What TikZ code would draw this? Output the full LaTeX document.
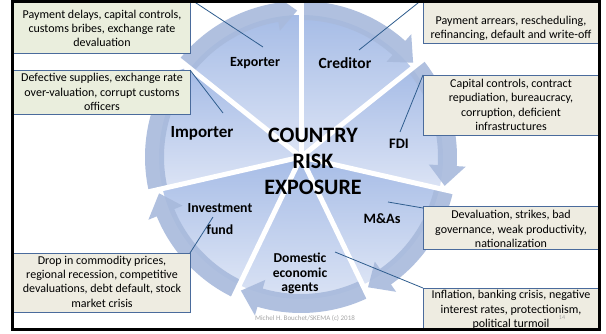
\documentclass[tikz,border=0pt]{standalone}
\usepackage{fontspec}
\setmainfont{Carlito}
\definecolor{boxfill}{HTML}{EEECE1}
\definecolor{boxfillg}{HTML}{EAEEDD}
\definecolor{boxblue}{HTML}{4A6B9C}
\definecolor{connblue}{HTML}{2F5D8E}
\definecolor{pietop}{HTML}{A6BCE6}
\definecolor{piebot}{HTML}{DCE4F5}
\definecolor{ringblue}{HTML}{A8BADC}
\definecolor{wmgray}{HTML}{A6A6A6}
\begin{document}
\begin{tikzpicture}[x=1pt,y=1pt,
  boxst/.style={draw=boxblue, line width=0.9pt, fill=boxfill, inner sep=0pt, outer sep=0pt, anchor=south west},
  boxtxt/.style={align=center, font=\fontsize{12}{14.3}\selectfont, inner sep=0pt},
  lbl/.style={align=center, inner sep=0pt},
  conn/.style={draw=connblue, line width=0.8pt},
  gapline/.style={draw=white, line width=5pt},
  ringst/.style={fill=ringblue, fill opacity=0.9}]
\useasboundingbox (0,0) rectangle (606,333);
\fill[white] (0,0) rectangle (606,333);
\begin{scope}
\clip (14,5) rectangle (598,330);
% cycle
\begin{scope}[shift={(301,176)}]
\foreach \k in {0,...,6}{
  \pgfmathsetmacro\aa{90-360/7*\k}
  \pgfmathsetmacro\bb{\aa-360/7}
  \shade[top color=pietop, bottom color=piebot] (0,0) -- (\aa:142pt) arc[start angle=\aa, end angle=\bb, radius=142pt] -- cycle;
}
\foreach \k in {0,...,6}{
  \pgfmathsetmacro\aa{90-360/7*\k}
  \pgfmathsetmacro\bb{\aa-360/7}
  \pgfmathsetmacro\tp{\bb+1.5}
  \pgfmathsetmacro\hb{\bb+9.5}
  \fill[ringst] (\aa:156pt) arc[start angle=\aa, end angle=\hb, radius=156pt] -- (\hb:165pt) -- (\tp:146.5pt) -- (\hb:128pt) -- (\hb:137pt) arc[start angle=\hb, end angle=\aa, radius=137pt] -- cycle;
}
\foreach \k in {0,...,6}{
  \pgfmathsetmacro\aa{90-360/7*\k}
  \draw[gapline] (0,0) -- (\aa:172pt);
}
\end{scope}
% boxes
\node[boxst, fill=boxfillg, minimum width=177pt, minimum height=54pt] (b1) at (13,280) {};
\node[boxst, fill=boxfillg, minimum width=177pt, minimum height=44pt] (b2) at (13,219) {};
\node[boxst, minimum width=176pt, minimum height=44pt] (b3) at (423,290) {};
\node[boxst, minimum width=176pt, minimum height=60pt] (b4) at (423,198) {};
\node[boxst, minimum width=176pt, minimum height=43pt] (b5) at (423,84) {};
\node[boxst, minimum width=177pt, minimum height=59pt] (b6) at (13,21) {};
\node[boxst, minimum width=176pt, minimum height=57pt] (b7) at (423,-12) {};
\node[boxtxt] (t1) at (102,304.5) {Payment delays, capital controls,\\customs bribes, exchange rate\\devaluation};
\node[boxtxt] (t2) at (102,241) {Defective supplies, exchange rate\\over-valuation, corrupt customs\\officers};
\node[boxtxt] (t3) at (511,304.5) {Payment arrears, rescheduling,\\refinancing, default and write-off};
\node[boxtxt] (t4) at (511,228) {Capital controls, contract\\repudiation, bureaucracy,\\corruption, deficient\\infrastructures};
\node[boxtxt] (t5) at (511,104) {Devaluation, strikes, bad\\governance, weak productivity,\\nationalization};
\node[boxtxt] (t6) at (102,51.5) {Drop in commodity prices,\\regional recession, competitive\\devaluations, debt default, stock\\market crisis};
\node[boxtxt] (t7) at (511,23) {Inflation, banking crisis, negative\\interest rates, protectionism,\\political turmoil};
% connector ends
\coordinate (e1) at (263,286);
\coordinate (e2) at (223,220);
\coordinate (e3) at (359,283);
\coordinate (e4) at (400,201);
\coordinate (e5) at (388,131);
\coordinate (e6) at (213,116);
\coordinate (e7) at (335,81);
\draw[conn] (b1.north east) -- (e1);
\draw[conn] (b2.north east) -- (e2);
\draw[conn] (b3.north west) -- (e3);
\draw[conn] (b4.north west) -- (e4);
\draw[conn] ([yshift=-2pt]b5.north west) -- (e5);
\draw[conn] (b6.north east) -- (e6);
\draw[conn] (b7.north west) -- (e7);
% labels
\node[lbl, font=\bfseries\fontsize{14}{17}\selectfont] (lexp) at (255,270) {Exporter};
\node[lbl, font=\bfseries\fontsize{15.5}{18}\selectfont] (lcred) at (345,270) {Creditor};
\node[lbl, font=\bfseries\fontsize{17}{20}\selectfont] (limp) at (202,200) {Importer};
\node[lbl, font=\bfseries\fontsize{14.5}{17}\selectfont] (lfdi) at (399,189) {FDI};
\node[lbl, font=\bfseries\fontsize{14.3}{17}\selectfont] (lma) at (382,114) {M\&As};
\node[lbl, font=\bfseries\fontsize{13.8}{22}\selectfont] (linv) at (220,114) {Investment\\fund};
\node[lbl, font=\bfseries\fontsize{13.6}{14.5}\selectfont] (ldom) at (300,59.5) {Domestic\\economic\\agents};
\node[lbl, font=\bfseries\fontsize{22}{26}\selectfont] (lcen) at (313,172) {COUNTRY\\RISK\\EXPOSURE};
\node[lbl, text=wmgray, font=\fontsize{7}{8}\selectfont] (wm) at (305,15) {Michel H. Bouchet/SKEMA (c) 2018};
\node[lbl, text=wmgray, font=\fontsize{6}{7}\selectfont] (pg) at (562,15) {14};
\end{scope}
\draw[black, line width=3pt] (12.5,3.5) rectangle (599.5,331.5);
\end{tikzpicture}
\end{document}
